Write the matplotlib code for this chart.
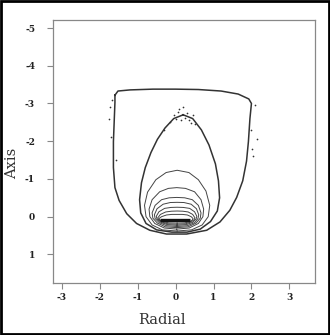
import matplotlib
matplotlib.use("Agg")
import matplotlib.pyplot as plt
from matplotlib.patches import Rectangle

plt.rcParams['axes.unicode_minus'] = False

# contour outlines (radial, axis)
outer_x = [-1.6, -1.52, -1.2, -0.6, 0.0, 0.6, 1.2, 1.65, 1.93, 2.0, 1.96, 1.92, 1.87, 1.77,
           1.61, 1.43, 1.17, 0.82, 0.29, -0.24, -0.68, -1.03, -1.29, -1.49, -1.6, -1.64,
           -1.64, -1.6, -1.6]
outer_y = [-3.22, -3.33, -3.36, -3.38, -3.38, -3.37, -3.33, -3.25, -3.12, -3.0, -2.6,
           -1.99, -1.47, -0.95, -0.51, -0.17, 0.14, 0.36, 0.46, 0.46, 0.36, 0.18, -0.08,
           -0.43, -0.77, -1.3, -1.99, -3.03, -3.22]

tear_x = [0.2, -0.05, -0.28, -0.48, -0.65, -0.8, -0.9, -0.95, -0.92, -0.78, -0.5, -0.1,
          0.3, 0.65, 0.92, 1.1, 1.16, 1.13, 1.05, 0.88, 0.68, 0.45, 0.2]
tear_y = [-2.7, -2.6, -2.35, -2.05, -1.7, -1.3, -0.9, -0.45, -0.1, 0.18, 0.35, 0.41,
          0.41, 0.33, 0.13, -0.15, -0.5, -0.95, -1.4, -1.9, -2.3, -2.6, -2.7]

# inner arches
c3 = [(0.04, 0.38), (-0.35, 0.35), (-0.62, 0.22), (-0.78, 0.0), (-0.82, -0.3), (-0.74, -0.65),
      (-0.52, -0.98), (-0.25, -1.17), (0.04, -1.23), (0.35, -1.17), (0.6, -0.98), (0.8, -0.68),
      (0.9, -0.3), (0.86, 0.0), (0.7, 0.22), (0.42, 0.35), (0.04, 0.38)]
c4 = [(0.03, 0.33), (-0.3, 0.3), (-0.55, 0.18), (-0.68, 0.0), (-0.7, -0.2), (-0.62, -0.45),
      (-0.42, -0.66), (-0.19, -0.75), (0.03, -0.77), (0.26, -0.75), (0.5, -0.66), (0.67, -0.45),
      (0.74, -0.2), (0.72, 0.0), (0.6, 0.18), (0.36, 0.3), (0.03, 0.33)]
c5 = [(0.03, 0.29), (-0.27, 0.27), (-0.48, 0.17), (-0.6, 0.04), (-0.62, -0.1), (-0.54, -0.3),
      (-0.37, -0.45), (-0.17, -0.5), (0.03, -0.51), (0.24, -0.5), (0.44, -0.45), (0.6, -0.3),
      (0.67, -0.1), (0.65, 0.04), (0.54, 0.17), (0.33, 0.27), (0.03, 0.29)]
c6 = [(0.04, 0.26), (-0.24, 0.24), (-0.43, 0.16), (-0.54, 0.05), (-0.56, -0.05), (-0.49, -0.21),
      (-0.33, -0.33), (-0.14, -0.375), (0.04, -0.38), (0.22, -0.375), (0.41, -0.33),
      (0.55, -0.21), (0.61, -0.05), (0.59, 0.05), (0.5, 0.16), (0.31, 0.24), (0.04, 0.26)]
c7 = [(0.04, 0.23), (-0.22, 0.21), (-0.39, 0.15), (-0.49, 0.06), (-0.51, -0.01), (-0.44, -0.13),
      (-0.29, -0.22), (-0.12, -0.245), (0.04, -0.25), (0.2, -0.245), (0.37, -0.22),
      (0.5, -0.13), (0.56, -0.01), (0.54, 0.06), (0.45, 0.15), (0.29, 0.21), (0.04, 0.23)]
c8 = [(0.04, 0.2), (-0.2, 0.19), (-0.36, 0.14), (-0.45, 0.08), (-0.47, 0.03), (-0.4, -0.06),
      (-0.26, -0.125), (-0.11, -0.145), (0.04, -0.15), (0.19, -0.145), (0.33, -0.125),
      (0.45, -0.06), (0.51, 0.03), (0.49, 0.08), (0.41, 0.14), (0.26, 0.19), (0.04, 0.2)]
c9 = [(0.04, 0.17), (-0.18, 0.165), (-0.33, 0.13), (-0.42, 0.09), (-0.44, 0.05), (-0.37, 0.0),
      (-0.24, -0.045), (-0.1, -0.06), (0.04, -0.06), (0.18, -0.06), (0.31, -0.045),
      (0.41, 0.0), (0.46, 0.05), (0.44, 0.09), (0.38, 0.13), (0.24, 0.165), (0.04, 0.17)]
inner = [c3, c4, c5, c6, c7, c8, c9]

band_x = [-0.4, 0.37]
band_y = [0.1, 0.1]

# stray dots around the outer rings
dots_x = [0.1, 0.05, 0.3, 0.35, -0.15, 0.2, 0.25, 0.4, -0.05, 0.15, 2.15, 2.1, -1.72,
          -1.75, -1.68, 2.05, 0.0, 0.45, -1.7, -1.58, 1.98, 2.02, -0.3, 0.5]
dots_y = [-2.85, -2.78, -2.75, -2.55, -2.5, -2.92, -2.62, -2.48, -2.7, -2.55, -2.05, -2.95,
          -2.9, -2.6, -3.1, -1.6, -2.6, -2.7, -2.1, -1.5, -2.3, -1.8, -2.3, -2.45]

xticks = [-3, -2, -1, 0, 1, 2, 3]
yticks = [-5, -4, -3, -2, -1, 0, 1]

fig = plt.figure(figsize=(3.3, 3.35), dpi=100)
fig.patches.append(Rectangle((0.003, 0.003), 0.994, 0.994, transform=fig.transFigure,
                             fill=False, edgecolor='black', linewidth=2))
ax = fig.add_axes([0.161, 0.155, 0.794, 0.785])

ink = '#333333'
ax.plot(outer_x, outer_y, color=ink, lw=1.1)
ax.plot(tear_x, tear_y, color=ink, lw=1.1)
for c in inner:
    ax.plot([p[0] for p in c], [p[1] for p in c], color='#444444', lw=0.7)
ax.plot(band_x, band_y, color='#111111', lw=2.4, solid_capstyle='butt')
ax.scatter(dots_x, dots_y, s=1.5, color=ink, linewidths=0)

ax.set_xlim(-3.23, 3.68)
ax.set_ylim(1.76, -5.21)
ax.set_xticks(xticks)
ax.set_yticks(yticks)

for sp in ax.spines.values():
    sp.set_color('#888888')
    sp.set_linewidth(0.9)
ax.tick_params(direction='out', length=4, width=0.8, color='#888888', labelcolor='#222222')
ax.tick_params(axis='y', pad=9)
ax.tick_params(axis='x', pad=3)
for lab in ax.get_xticklabels() + ax.get_yticklabels():
    lab.set_fontfamily('DejaVu Serif')
    lab.set_fontweight('bold')
    lab.set_fontsize(6.5)

ax.set_xlabel('Radial', family='DejaVu Serif', fontsize=10.5, color='#333333')
ax.xaxis.set_label_coords(0.415, -0.115)
ax.set_ylabel('Axis', family='DejaVu Serif', fontsize=10.5, color='#333333')
ax.yaxis.set_label_coords(-0.13, 0.456)

fig.savefig('out.png', dpi=100)
